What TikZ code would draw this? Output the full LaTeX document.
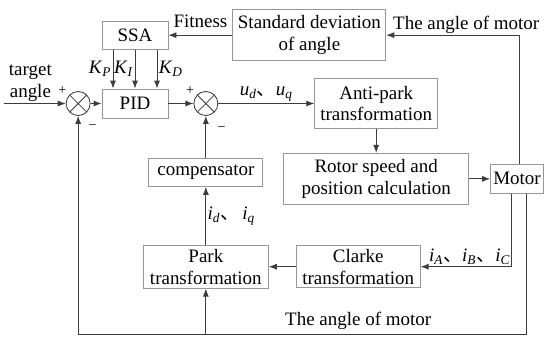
\documentclass[tikz,border=0pt]{standalone}
\usepackage{fontspec}
\setmainfont{Liberation Serif}
\newfontfamily\cjk{Noto Sans CJK SC}
\usetikzlibrary{arrows.meta,positioning,calc}
\definecolor{boxgray}{RGB}{150,150,150}
\definecolor{linegray}{RGB}{60,60,60}
\newcommand{\isub}[2]{\textit{#1}\textsubscript{\textit{#2}}}
\newcommand{\dun}{{\cjk 、}}
\tikzset{
  block/.style  ={rectangle, draw=boxgray, line width=0.6pt, align=center,
                  inner sep=1pt, minimum height=0.7cm},
  sumnode/.style={circle, draw=linegray, line width=0.6pt, minimum size=0.6cm, inner sep=0pt,
                  path picture={\draw[linegray, line width=0.6pt]
                    (path picture bounding box.north west) -- (path picture bounding box.south east)
                    (path picture bounding box.north east) -- (path picture bounding box.south west);}},
  sgn/.style    ={font=\fontsize{10}{10}\selectfont, inner sep=1pt},
  flow/.style   ={-{Latex[length=2mm,width=1.5mm]}, line width=0.6pt, draw=linegray},
  lbl/.style    ={inner sep=1pt}
}
\begin{document}
\begin{tikzpicture}[font=\fontsize{13.5}{15.5}\selectfont, node distance=0.6cm]
\useasboundingbox (-3.375,2.5875) rectangle (10.375,-5.8625);
% ---- Controller ----
\node[block, minimum width=1.65cm, minimum height=0.725cm] (pid) at (0,0) {PID};
\node[sumnode, left=0.275cm of pid, label={[sgn]145:+},
      label={[sgn,label distance=6pt]-65:−}] (sum1) {};
\node[sumnode, right=0.625cm of pid, label={[sgn]145:+},
      label={[sgn,label distance=8pt]-65:−}] (sum2) {};
\node[block, minimum width=1.65cm, above=0.975cm of pid] (ssa) {SSA};
\node[block, minimum width=3.825cm, minimum height=1.275cm, right=1.6cm of ssa] (std)
  {Standard deviation\\of angle};

% ---- Motor side ----
\node[block, minimum width=3.075cm, minimum height=1.25cm, right=2.4cm of sum2] (apark)
  {Anti-park\\transformation};
\node[block, minimum width=4.625cm, minimum height=1.275cm, below=0.6cm of apark] (rotor)
  {Rotor speed and\\position calculation};
\node[block, minimum width=1.325cm, minimum height=0.725cm, right=0.525cm of rotor] (motor) {Motor};

% ---- Current feedback ----
\node[block, minimum width=2.85cm, below=1.05cm of sum2] (comp) {compensator};
\node[block, minimum width=3.125cm, minimum height=1.075cm, below=1.45cm of comp] (park)
  {Park\\transformation};
\node[block, minimum width=3.1cm, minimum height=1.05cm, right=0.675cm of park] (clarke)
  {Clarke\\transformation};

\coordinate[left=1.55cm of sum1.west] (in);
\coordinate[below=1.14cm of park.south] (bot);

% ---- Edges ----
\draw[flow] (in) -- node[lbl, above, pos=0.43, align=center]{target\\angle} (sum1.west);
\draw[flow] (sum1) -- (pid);
\draw[flow] (pid) -- (sum2);
\draw[flow] (sum2) -- node[lbl, above]{\isub{u}{d}\dun\isub{u}{q}} (apark);
\draw[flow] (apark) -- (rotor);
\draw[flow] (rotor) -- (motor);
\draw[flow] ([xshift=0.06cm]motor.north) |- node[lbl, above, pos=0.7]{The angle of motor} (std.east);
\draw[flow] (std.west) -- node[lbl, above=4pt]{Fitness} (ssa.east);
\foreach \dx/\kk/\side in {-0.55/P/left, 0/I/left, 0.55/D/right}
  \draw[flow] ([xshift=\dx cm]ssa.south) -- node[lbl, \side]{\isub{K}{\kk}} ([xshift=\dx cm]pid.north);
\draw[flow] (comp) -- (sum2);
\draw[flow] (park) -- node[lbl, right]{\isub{i}{d}\dun\,\isub{i}{q}} (comp);
\draw[flow] (clarke) -- (park);
\draw[flow] ([xshift=-0.14cm]motor.south) |- node[lbl, above, pos=0.73]
  {\isub{i}{A}\dun\isub{i}{B}\dun\isub{i}{C}} (clarke.east);
\draw[flow] ([xshift=0.24cm]motor.south) |- (bot) -| (sum1.south);
\draw[flow] (bot) -- (park);
\node[lbl, above=2pt] at (clarke.south |- bot) {The angle of motor};
\end{tikzpicture}
\end{document}
